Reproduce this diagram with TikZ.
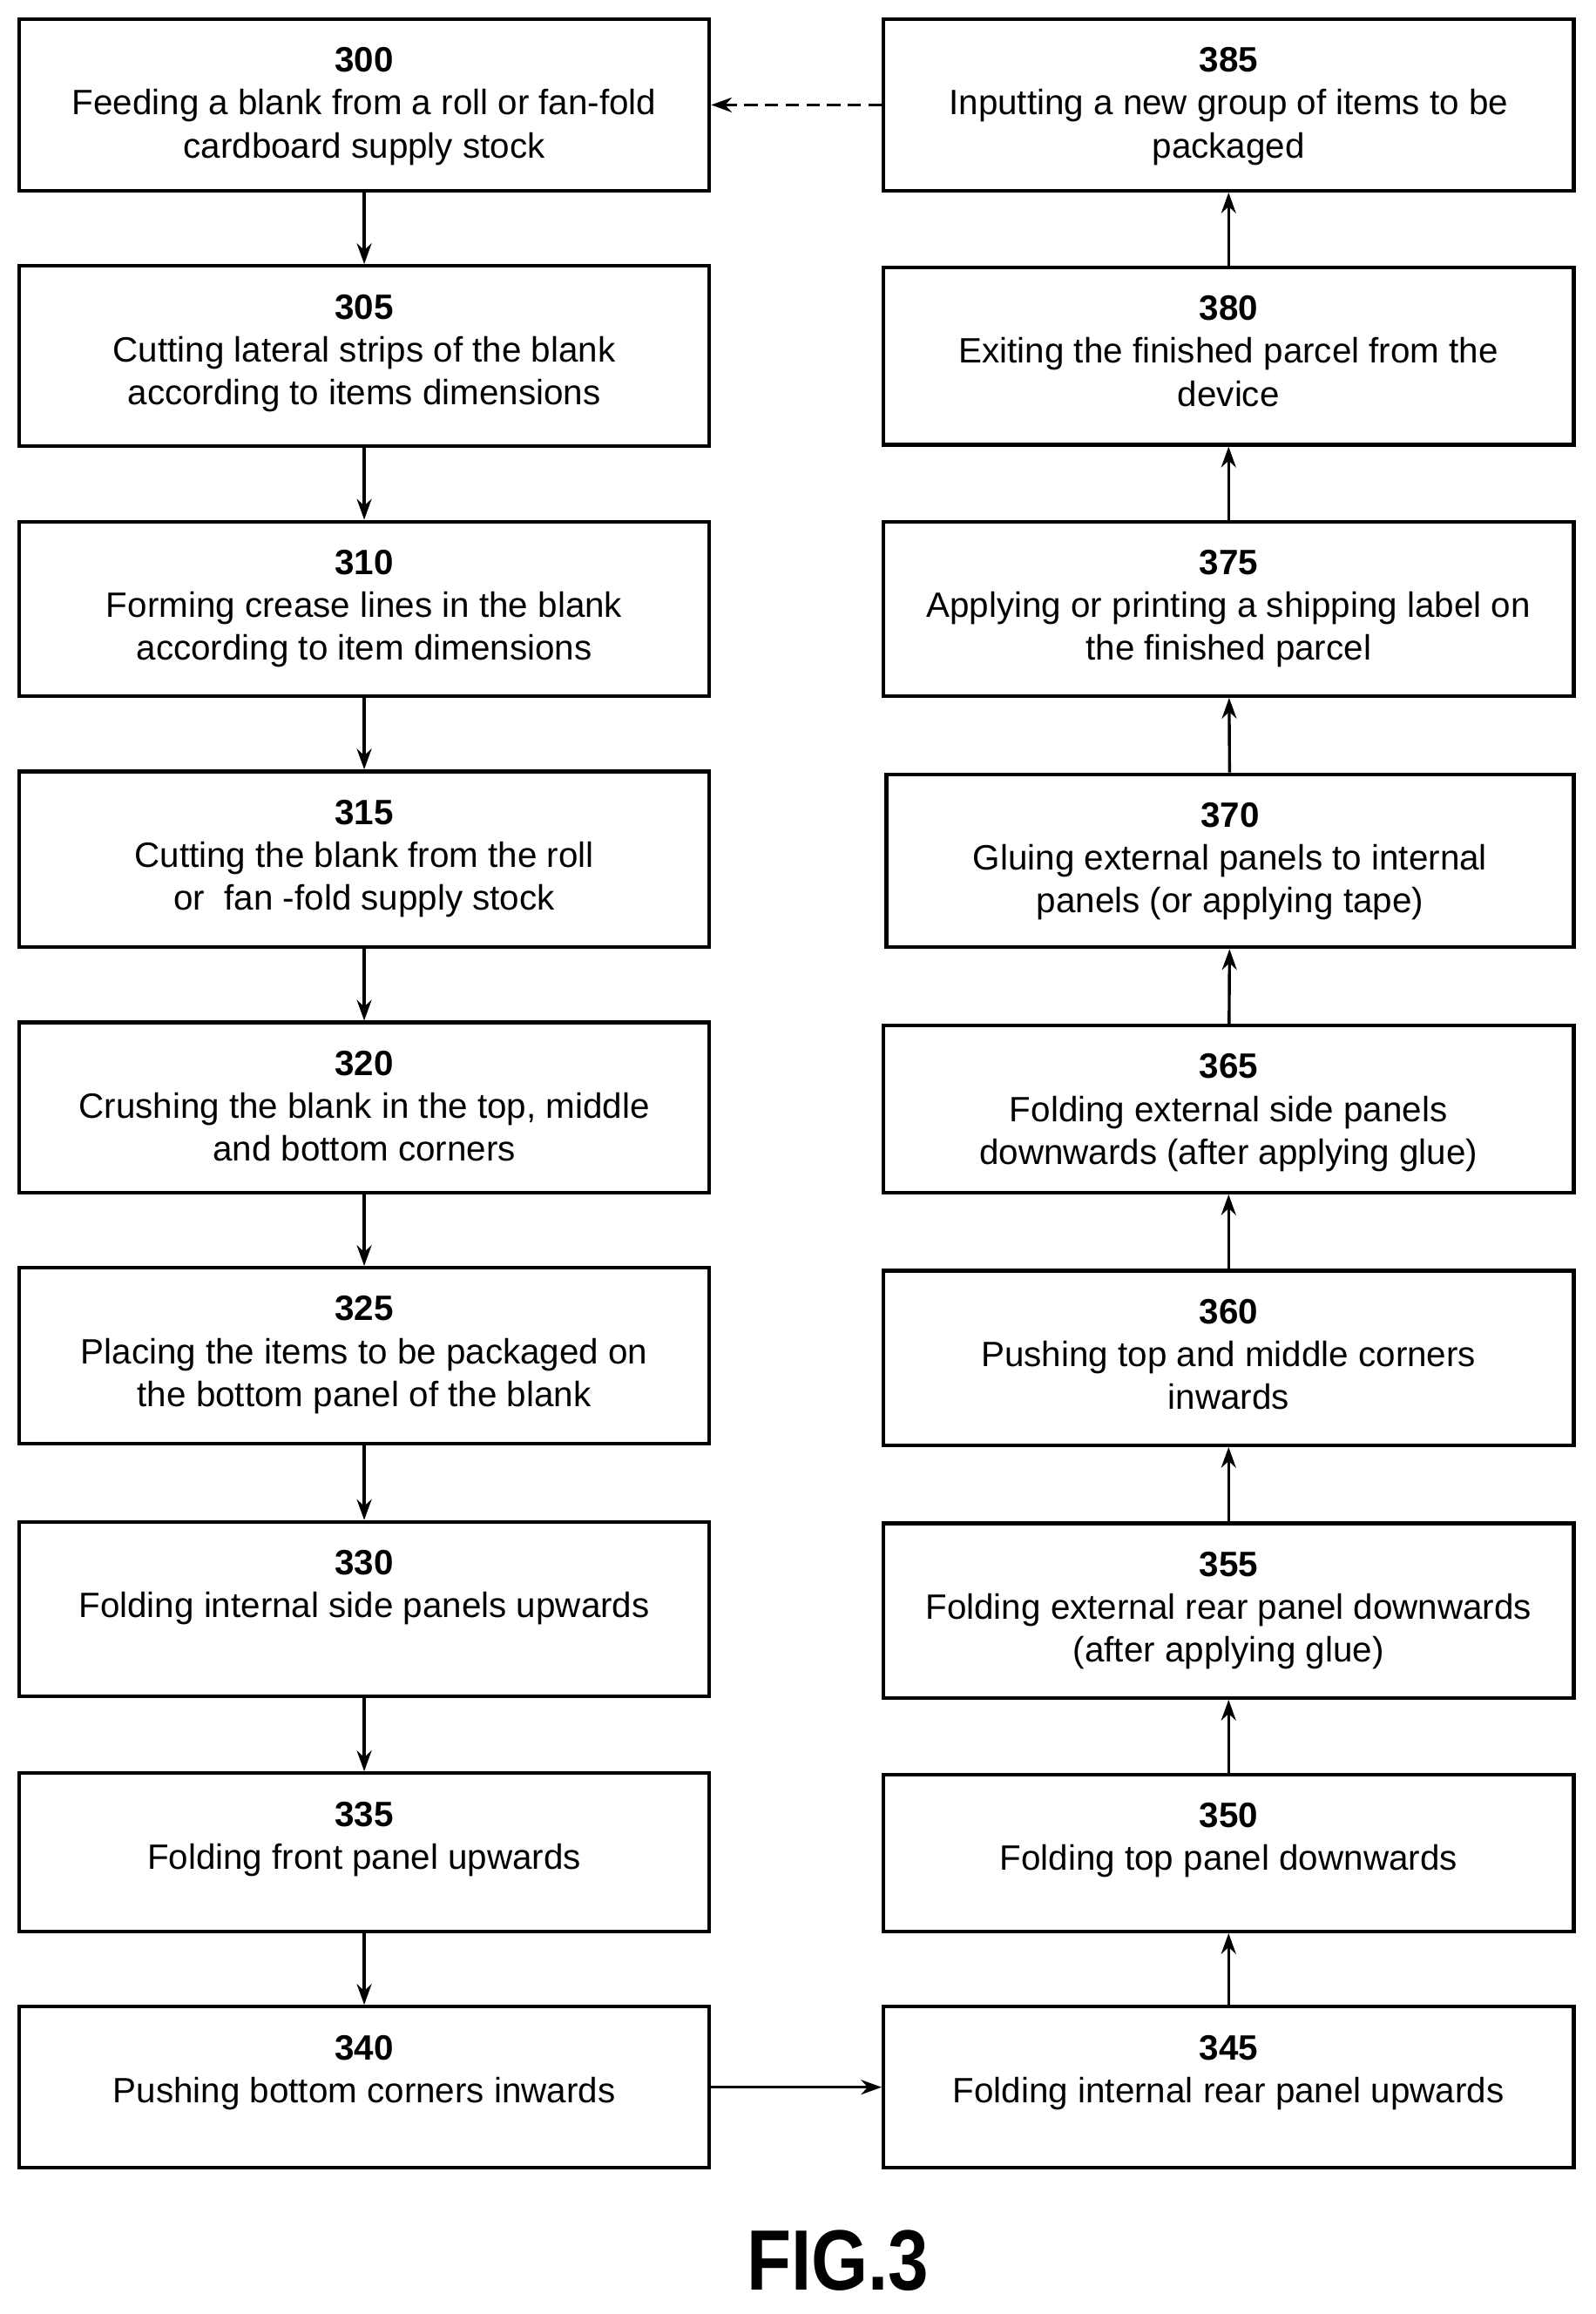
\documentclass[tikz,border=0pt]{standalone}
\usepackage{fontspec}
\setmainfont{Liberation Sans}
\usetikzlibrary{arrows.meta}
\tikzset{
  box/.style={draw,line width=2.6pt,inner sep=0pt},
  txt/.style={anchor=north,align=center,font=\fontsize{23.8}{29}\selectfont,inner sep=0pt},
  arr/.style={line width=2pt,-{Stealth[length=14pt,width=10pt]}},
}
\newcommand{\stp}[6]{%
  \node[box,minimum width={(#4-#2)*1pt},minimum height={(#5-#3)*1pt}] (#1) at ({(#2+#4)/2},{-(#3+#5)/2}) {};
  \node[txt] (#1t) at ({(#2+#4)/2},{-#3-19}) {#6};
}
\begin{document}
\begin{tikzpicture}[x=1pt,y=1pt]
\useasboundingbox (0,0) rectangle (1080,-1566);
\stp{a300}{13}{13}{480}{129}{\textbf{300}\\Feeding a blank from a roll or fan-fold\\cardboard supply stock}
\stp{a305}{13}{180}{480}{302}{\textbf{305}\\Cutting lateral strips of the blank\\according to items dimensions}
\stp{a310}{13}{353}{480}{471}{\textbf{310}\\Forming crease lines in the blank\\according to item dimensions}
\stp{a315}{13}{522}{480}{641}{\textbf{315}\\Cutting the blank from the roll\\or~ fan -fold supply stock}
\stp{a320}{13}{692}{480}{807}{\textbf{320}\\Crushing the blank in the top, middle\\and bottom corners}
\stp{a325}{13}{858}{480}{977}{\textbf{325}\\Placing the items to be packaged on\\the bottom panel of the blank}
\stp{a330}{13}{1030}{480}{1148}{\textbf{330}\\Folding internal side panels upwards}
\stp{a335}{13}{1200}{480}{1307}{\textbf{335}\\Folding front panel upwards}
\stp{a340}{13}{1358}{480}{1467}{\textbf{340}\\Pushing bottom corners inwards}
\stp{a385}{598}{13}{1065}{129}{\textbf{385}\\Inputting a new group of items to be\\packaged}
\stp{a380}{598}{181}{1065}{301}{\textbf{380}\\Exiting the finished parcel from the\\device}
\stp{a375}{598}{353}{1065}{471}{\textbf{375}\\Applying or printing a shipping label on\\the finished parcel}
\stp{a370}{600}{524}{1065}{641}{\textbf{370}\\Gluing external panels to internal\\panels (or applying tape)}
\stp{a365}{598}{694}{1065}{807}{\textbf{365}\\Folding external side panels\\downwards (after applying glue)}
\stp{a360}{598}{860}{1065}{978}{\textbf{360}\\Pushing top and middle corners\\inwards}
\stp{a355}{598}{1031}{1065}{1149}{\textbf{355}\\Folding external rear panel downwards\\(after applying glue)}
\stp{a350}{598}{1201}{1065}{1307}{\textbf{350}\\Folding top panel downwards}
\stp{a345}{598}{1358}{1065}{1467}{\textbf{345}\\Folding internal rear panel upwards}
\foreach \u/\v in {300/305,305/310,310/315,315/320,320/325,325/330,330/335,335/340,345/350,350/355,355/360,360/365,365/370,370/375,375/380,380/385}
  \draw[arr] (a\u) -- (a\v);
\draw[arr] (a340) -- (a345);
\draw[arr,dashed,dash pattern=on 9pt off 5pt] (a385.west) -- (a300.east);
\node[font=\bfseries\fontsize{58}{60}\selectfont,inner sep=0pt,xscale=0.85] (fig) at (567,-1530) {FIG.3};
\end{tikzpicture}
\end{document}
